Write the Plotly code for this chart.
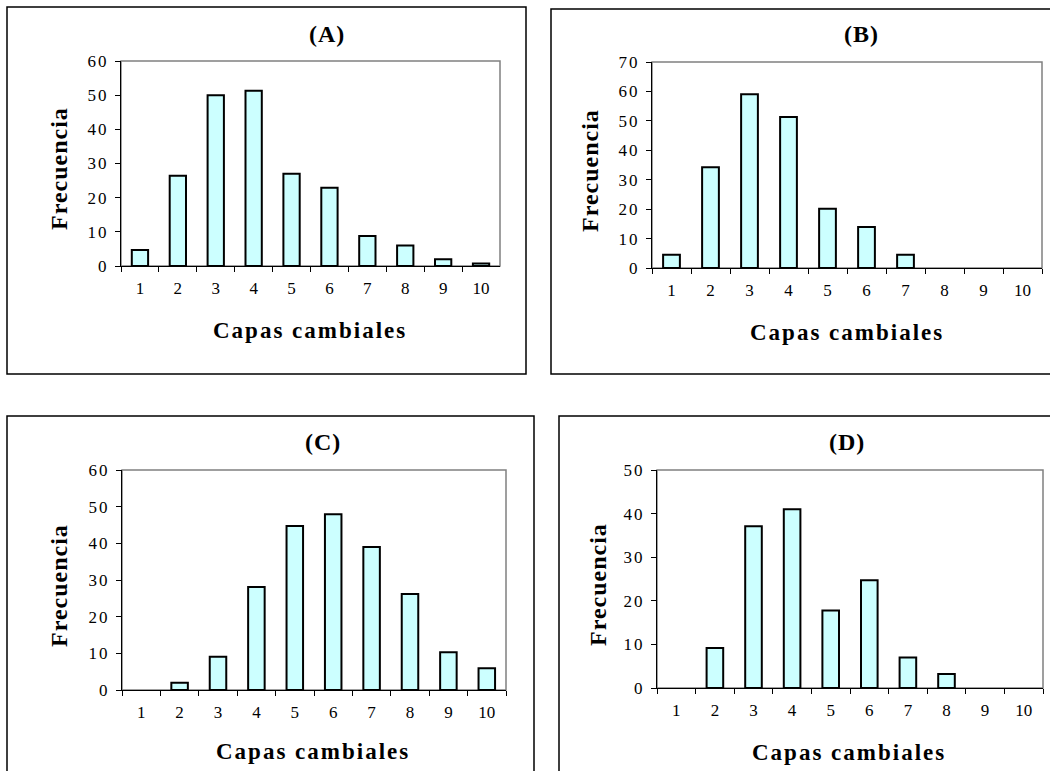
import plotly.graph_objects as go

W, H = 1050, 771

categories = ["1", "2", "3", "4", "5", "6", "7", "8", "9", "10"]
freq_A = [4.7, 26.4, 50.0, 51.3, 27.0, 22.9, 8.8, 6.0, 2.0, 0.7]
freq_B = [4.5, 34.2, 59.0, 51.3, 20.1, 13.9, 4.5, 0, 0, 0]
freq_C = [0, 2.0, 9.1, 28.1, 44.7, 47.9, 39.0, 26.2, 10.3, 5.9]
freq_D = [0, 9.2, 37.1, 41.0, 17.8, 24.7, 7.0, 3.2, 0, 0]
panel_titles = ["(A)", "(B)", "(C)", "(D)"]
y_max = [60, 70, 60, 50]
x_title = "Capas cambiales"
y_title = "Frecuencia"

FONT = "Liberation Serif"

# plot areas in pixels: left, top, right, bottom
areas = [(121, 61, 500, 266), (652, 62, 1042, 268), (122, 470, 506, 690), (657, 470, 1043, 688)]
frames = [(7, 7, 526, 374), (551, 9, 1060, 374), (7, 416, 534, 790), (559, 416, 1060, 790)]
title_pos = [(327, 34), (861, 34), (323, 442), (847, 442)]
xt_pos = [(310, 330), (847, 332), (313, 751), (849, 752)]
yt_pos = [(59, 169), (590, 171), (59, 586), (598, 585)]

def px(x):
    return x / W

def py(y):
    return 1 - y / H

series = [freq_A, freq_B, freq_C, freq_D]
fig = go.Figure()
layout = dict(width=W, height=H, margin=dict(l=0, r=0, t=0, b=0, autoexpand=False),
              paper_bgcolor="white", plot_bgcolor="white", showlegend=False,
              bargap=0.57, font=dict(family=FONT, color="black"))
shapes = []
annotations = []

def sp(text, n):
    return "<span style='letter-spacing:%dpx'>%s</span>" % (n, text)

for i, vals in enumerate(series):
    k = "" if i == 0 else str(i + 1)
    fig.add_trace(go.Bar(x=categories, y=vals, xaxis="x" + k, yaxis="y" + k,
                         marker=dict(color="#CCFFFF",
                                     line=dict(color="black", width=[2 if v > 0 else 0 for v in vals])),
                         hoverinfo="x+y"))
    l, t, r, b = areas[i]
    layout["xaxis" + k] = dict(domain=[px(l), px(r)], anchor="y" + k, type="category",
                               range=[-0.5, 9.5], tickson="boundaries", ticks="outside",
                               ticklen=5, tickcolor="black", showline=True, linecolor="black",
                               linewidth=1, showgrid=False, zeroline=False, ticklabelstandoff=7,
                               automargin=False,
                               tickfont=dict(family=FONT, size=17, color="black"), fixedrange=True)
    tv = list(range(0, y_max[i] + 1, 10))
    layout["yaxis" + k] = dict(domain=[py(b), py(t)], anchor="x" + k, range=[0, y_max[i]],
                               tickvals=tv, ticktext=[sp(str(v), 2) for v in tv],
                               ticks="outside", ticklen=5, tickcolor="black", showline=True,
                               linecolor="black", linewidth=1, showgrid=False, zeroline=False,
                               ticklabelstandoff=3, automargin=False,
                               tickfont=dict(family=FONT, size=17, color="black"), fixedrange=True)
    shapes.append(dict(type="rect", xref="paper", yref="paper", x0=px(l), x1=px(r), y0=py(b), y1=py(t),
                       line=dict(color="#808080", width=1.5), layer="below"))
    fl, ft, fr, fb = frames[i]
    shapes.append(dict(type="rect", xref="paper", yref="paper", x0=px(fl), x1=px(fr), y0=py(fb), y1=py(ft),
                       line=dict(color="black", width=1.5), layer="below"))
    tx, ty = title_pos[i]
    annotations.append(dict(text="<b>" + sp(panel_titles[i], 1) + "</b>", x=px(tx), y=py(ty),
                            xref="paper", yref="paper", xanchor="center", yanchor="middle",
                            showarrow=False, font=dict(family=FONT, size=24, color="black")))
    ax, ay = xt_pos[i]
    annotations.append(dict(text="<b>" + sp(x_title, 2) + "</b>", x=px(ax), y=py(ay),
                            xref="paper", yref="paper", xanchor="center", yanchor="middle",
                            showarrow=False, font=dict(family=FONT, size=23, color="black")))
    yx, yy = yt_pos[i]
    annotations.append(dict(text="<b>" + sp(y_title, 1) + "</b>", x=px(yx), y=py(yy),
                            xref="paper", yref="paper", xanchor="center", yanchor="middle",
                            textangle=-90, showarrow=False,
                            font=dict(family=FONT, size=24, color="black")))

layout["shapes"] = shapes
layout["annotations"] = annotations
fig.update_layout(**layout)
fig.write_html("out.html", config={"displayModeBar": False},
               post_script="document.body.style.margin='0px';document.body.style.padding='0px';")
